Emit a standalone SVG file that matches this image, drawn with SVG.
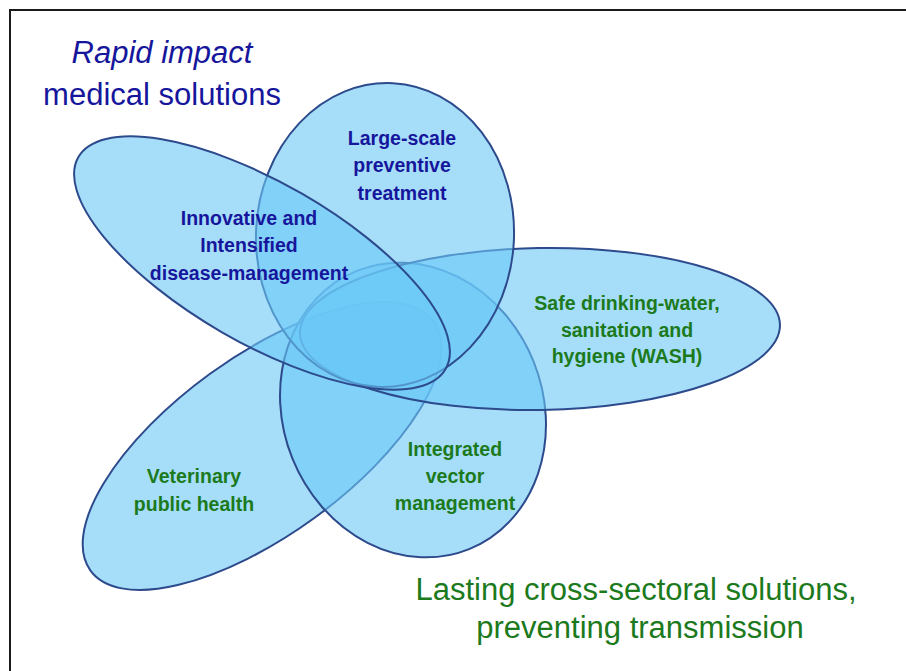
<svg xmlns="http://www.w3.org/2000/svg" width="906" height="671" viewBox="0 0 906 671">
  <style>
    .ell { fill: #6BC8F7; fill-opacity: 0.6; stroke: #2D4A8C; stroke-width: 2; }
    .lbl { font-family: "Liberation Sans", Arial, sans-serif; font-weight: bold; font-size: 19.5px; text-anchor: middle; }
    .blue { fill: #16169C; }
    .green { fill: #1C7A1C; }
    .title { font-family: "Liberation Sans", Arial, sans-serif; font-size: 31px; text-anchor: middle; }
  </style>
  <rect x="0" y="0" width="906" height="671" fill="#FFFFFF"/>
  <path id="frame" d="M10,671 V10 H906" fill="none" stroke="#1A1A1A" stroke-width="2"/>

  <g id="veterinary">
    <ellipse class="ell" cx="262" cy="446" rx="212" ry="89" transform="rotate(-36 262 446)"/>
    <text class="lbl green" x="194" y="483">Veterinary</text>
    <text class="lbl green" x="194" y="511">public health</text>
  </g>

  <g id="integrated">
    <ellipse class="ell" cx="413" cy="410" rx="130" ry="150" transform="rotate(-22 413 410)"/>
    <text class="lbl green" x="455" y="456">Integrated</text>
    <text class="lbl green" x="455" y="483">vector</text>
    <text class="lbl green" x="455" y="510">management</text>
  </g>

  <g id="wash">
    <ellipse class="ell" cx="540" cy="329" rx="240" ry="81" transform="rotate(-1 540 329)"/>
    <text class="lbl green" x="627" y="310">Safe drinking-water,</text>
    <text class="lbl green" x="627" y="337">sanitation and</text>
    <text class="lbl green" x="627" y="363">hygiene (WASH)</text>
  </g>

  <g id="large-scale">
    <ellipse class="ell" cx="385" cy="235" rx="129" ry="152" transform="rotate(3 385 235)"/>
    <text class="lbl blue" x="402" y="145">Large-scale</text>
    <text class="lbl blue" x="402" y="172">preventive</text>
    <text class="lbl blue" x="402" y="200">treatment</text>
  </g>

  <g id="innovative">
    <ellipse class="ell" cx="262" cy="263" rx="212" ry="80" transform="rotate(30 262 263)"/>
    <text class="lbl blue" x="249" y="225">Innovative and</text>
    <text class="lbl blue" x="249" y="252">Intensified</text>
    <text class="lbl blue" x="249" y="280">disease-management</text>
  </g>

  <g id="title-medical">
    <text class="title blue" x="162" y="63" font-style="italic">Rapid impact</text>
    <text class="title blue" x="162" y="105">medical solutions</text>
  </g>

  <g id="title-lasting">
    <text class="title green" x="636" y="600">Lasting cross-sectoral solutions,</text>
    <text class="title green" x="640" y="638">preventing transmission</text>
  </g>
</svg>
